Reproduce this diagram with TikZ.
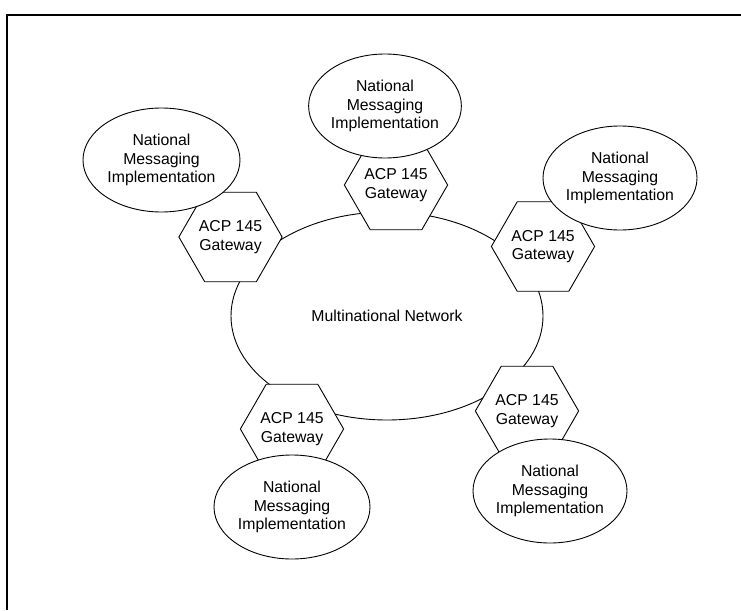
\documentclass[tikz,border=0pt]{standalone}
\usepackage{fontspec}
\setmainfont{Liberation Sans}
\usetikzlibrary{shapes.geometric}

\begin{document}
\begin{tikzpicture}[x=1pt, y=-1pt, every node/.style={font=\fontsize{15.8}{18.5}\selectfont, align=center}, net/.style={draw, ellipse, line width=0.9pt, minimum width=312pt, minimum height=208pt, inner sep=0pt}, gw/.style={draw, regular polygon, regular polygon sides=6, fill=white, line width=0.9pt, minimum size=100pt, inner sep=0pt}, nmi/.style={draw, ellipse, fill=white, line width=0.9pt, minimum width=156pt, minimum height=104pt, inner sep=0pt}]
	\useasboundingbox (0,0) rectangle (741,610);
	\draw[line width=2.4pt] (7,610) -- (7,15) -- (741,15);
	\node[net] (mn) at (387,316) {Multinational Network};
	\foreach \i/\x/\y in {1/396/185, 2/230.5/237, 3/543/246.5, 4/292/429, 5/527/411} {\node[gw] (gw\i) at (\x,\y) {ACP 145\\Gateway};}
	\foreach \i/\x/\y/\w in {1/385/106/136, 2/161.5/160/157, 3/620/178/154, 4/292/507/156, 5/550/491/154} {\node[nmi, minimum width=\w pt] (nmi\i) at (\x,\y) {National\\Messaging\\Implementation};}
\end{tikzpicture}
\end{document}
